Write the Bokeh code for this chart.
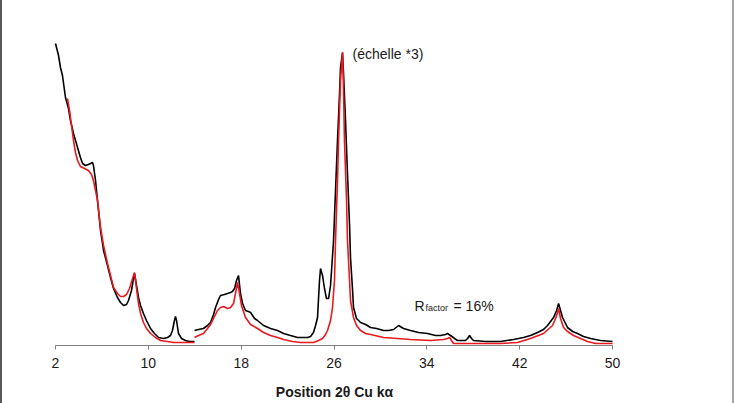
from bokeh.plotting import figure
from bokeh.models import Range1d, FixedTicker, Label
from bokeh.embed import file_html
from bokeh.resources import INLINE

# ---------------- data (2theta in degrees, intensity in arbitrary units) -------------
ticks = [2, 10, 18, 26, 34, 42, 50]

# low-angle part (2-14 deg), observed
tt_obs1 = [2.00, 2.26, 2.43, 2.60, 2.86, 3.12, 3.29, 3.55, 3.90, 4.15, 4.33, 4.59, 4.84, 5.02,
           5.19, 5.27, 5.45, 5.62, 5.88, 6.14, 6.48, 6.74, 7.00, 7.34, 7.60, 7.86, 8.12, 8.29,
           8.55, 8.72, 8.81, 8.98, 9.15, 9.33, 9.58, 9.84, 10.19, 10.53, 10.88, 11.31, 11.65,
           11.91, 12.08, 12.25, 12.34, 12.43, 12.60, 12.86, 13.20, 13.55, 13.98]
i_obs1 = [302, 290, 278, 270, 248, 237, 225, 212, 198, 188, 182, 180, 181, 182,
          183, 180, 165, 145, 115, 95, 80, 68, 57, 48, 43, 40, 41, 45,
          55, 67, 72, 60, 48, 40, 32, 25, 17, 12, 8, 7, 8,
          10, 15, 25, 29, 25, 12, 7, 5, 4, 4]

# low-angle part, calculated
tt_calc1 = [3.03, 3.21, 3.38, 3.55, 3.72, 3.90, 4.15, 4.50, 4.84, 5.10, 5.27, 5.45, 5.62, 5.88,
            6.14, 6.48, 6.74, 7.00, 7.34, 7.60, 7.86, 8.12, 8.38, 8.64, 8.81, 8.98, 9.15, 9.33,
            9.58, 9.84, 10.19, 10.62, 11.05, 11.65, 12.17, 13.20, 13.98]
i_calc1 = [247, 235, 220, 205, 193, 185, 179, 177, 175, 171, 165, 155, 145, 118,
           100, 82, 70, 58, 52, 49, 49, 51, 57, 67, 73, 57, 42, 32,
           23, 17, 12, 8, 5, 4, 3, 3, 3]

# high-angle part (14-50 deg, displayed scale x3), observed
tt_obs2 = [13.98, 14.32, 14.75, 15.10, 15.36, 15.62, 15.79, 16.05, 16.22, 16.56, 16.82, 17.08,
           17.25, 17.43, 17.60, 17.77, 17.94, 18.12, 18.37, 18.63, 18.81, 19.15, 19.41, 19.93,
           20.53, 21.13, 21.65, 22.25, 22.86, 23.37, 23.72, 23.98, 24.23, 24.41, 24.58, 24.67,
           24.75, 24.84, 25.01, 25.18, 25.35, 25.53, 25.70, 25.96, 26.13, 26.30, 26.47, 26.56,
           26.73, 26.82, 26.99, 27.16, 27.34, 27.42, 27.60, 27.68, 27.94, 28.29, 28.72, 29.15,
           29.66, 30.27, 30.70, 31.13, 31.56, 31.99, 32.59, 33.28, 34.06, 34.75, 35.18, 35.61,
           35.78, 36.04, 36.39, 36.64, 37.33, 37.51, 37.68, 37.85, 38.02, 39.06, 40.35, 41.47,
           42.33, 42.93, 43.54, 44.05, 44.40, 44.66, 44.92, 45.18, 45.35, 45.52, 45.69, 45.95,
           46.12, 46.56, 46.98, 47.50, 48.11, 48.97, 50.00]
i_obs2 = [15, 16, 17, 20, 23, 31, 38, 46, 50, 51, 52, 53,
          54, 57, 65, 70, 52, 42, 35, 34, 33, 27, 25, 20,
          17, 15, 12, 10, 8, 8, 8, 9, 13, 20, 28, 48,
          65, 77, 70, 57, 47, 47, 60, 105, 155, 205, 250, 278,
          293, 272, 225, 172, 120, 88, 55, 38, 27, 23, 21, 18,
          17, 15, 15, 16, 20, 17, 15, 13, 12, 10, 10, 11,
          12, 10, 7, 5, 5, 7, 10, 7, 5, 4, 4, 6,
          8, 10, 13, 16, 20, 24, 28, 35, 42, 35, 28, 22,
          18, 14, 12, 9, 7, 5, 4]

# high-angle part, calculated
tt_calc2 = [13.98, 14.32, 14.75, 15.10, 15.36, 15.70, 15.96, 16.22, 16.48, 16.82, 17.08, 17.34,
            17.51, 17.68, 17.86, 18.03, 18.37, 18.81, 19.41, 19.93, 20.53, 21.13, 21.65, 22.42,
            23.11, 24.23, 24.67, 25.01, 25.27, 25.44, 25.70, 25.87, 26.04, 26.13, 26.30, 26.39,
            26.56, 26.73, 26.82, 26.90, 27.08, 27.16, 27.34, 27.42, 27.68, 27.94, 28.29, 28.72,
            29.15, 30.27, 31.47, 32.59, 34.32, 35.44, 35.78, 35.96, 36.12, 36.30, 38.62, 40.35,
            41.81, 42.93, 44.05, 44.83, 45.09, 45.26, 45.35, 45.52, 45.78, 46.12, 46.64, 47.24,
            47.85, 48.54, 50.00]
i_calc2 = [8, 10, 12, 17, 21, 29, 35, 38, 39, 37, 38, 42,
           52, 63, 52, 40, 28, 21, 17, 13, 10, 8, 6, 4,
           3, 3, 5, 7, 11, 15, 25, 38, 65, 105, 165, 205,
           265, 293, 255, 205, 145, 105, 65, 45, 28, 20, 15, 12,
           11, 8, 7, 6, 5, 6, 7, 8, 5, 2, 2, 2,
           3, 7, 12, 20, 27, 33, 37, 27, 18, 14, 10, 7,
           4, 2, 2]

FONT = "Liberation Sans"

p = figure(width=734, height=403, output_backend="svg", toolbar_location=None,
           x_range=Range1d(-2.567, 54.65), y_range=Range1d(0, 345),
           y_axis_location=None,
           min_border_left=0, min_border_right=70, min_border_top=0, min_border_bottom=58)
p.styles = {"border-left": "2px solid #5a5a5a", "border-right": "2px solid #a6a6a6",
            "box-sizing": "border-box"}
p.outline_line_color = None
p.grid.visible = False
p.background_fill_color = "white"
p.border_fill_color = "white"

ax = p.xaxis[0]
ax.bounds = (2, 50)
ax.ticker = FixedTicker(ticks=ticks)
ax.minor_tick_line_color = None
ax.major_tick_in = 0
ax.major_tick_out = 4
ax.axis_line_color = "#808080"
ax.major_tick_line_color = "#808080"
ax.major_label_text_font = FONT
ax.major_label_text_font_size = "14px"
ax.major_label_text_color = "#1a1a1a"
ax.major_label_standoff = 8
ax.axis_label = "Position 2θ Cu kα"
ax.axis_label_text_font = FONT
ax.axis_label_text_font_size = "14px"
ax.axis_label_text_font_style = "bold"
ax.axis_label_text_color = "#1a1a1a"
ax.axis_label_standoff = 13

BLACK = "#000000"
RED = "#e8191e"
p.line(tt_obs1, i_obs1, line_color=BLACK, line_width=1.6)
p.line(tt_obs2, i_obs2, line_color=BLACK, line_width=1.6)
p.line(tt_calc1, i_calc1, line_color=RED, line_width=1.6)
p.line(tt_calc2, i_calc2, line_color=RED, line_width=1.6)

p.add_layout(Label(x=27.60, y=292, text="(échelle *3)", text_font=FONT,
                   text_font_size="14px", text_color="#1a1a1a", text_baseline="alphabetic"))
p.add_layout(Label(x=32.94, y=40, text="R", text_font=FONT,
                   text_font_size="14px", text_color="#1a1a1a", text_baseline="alphabetic"))
p.add_layout(Label(x=32.94, y=38, x_offset=11, text="factor", text_font=FONT,
                   text_font_size="9px", text_color="#1a1a1a", text_baseline="alphabetic"))
p.add_layout(Label(x=32.94, y=40, x_offset=39, text="= 16%", text_font=FONT,
                   text_font_size="14px", text_color="#1a1a1a", text_baseline="alphabetic"))

open("out.html", "w").write(file_html(p, INLINE))
